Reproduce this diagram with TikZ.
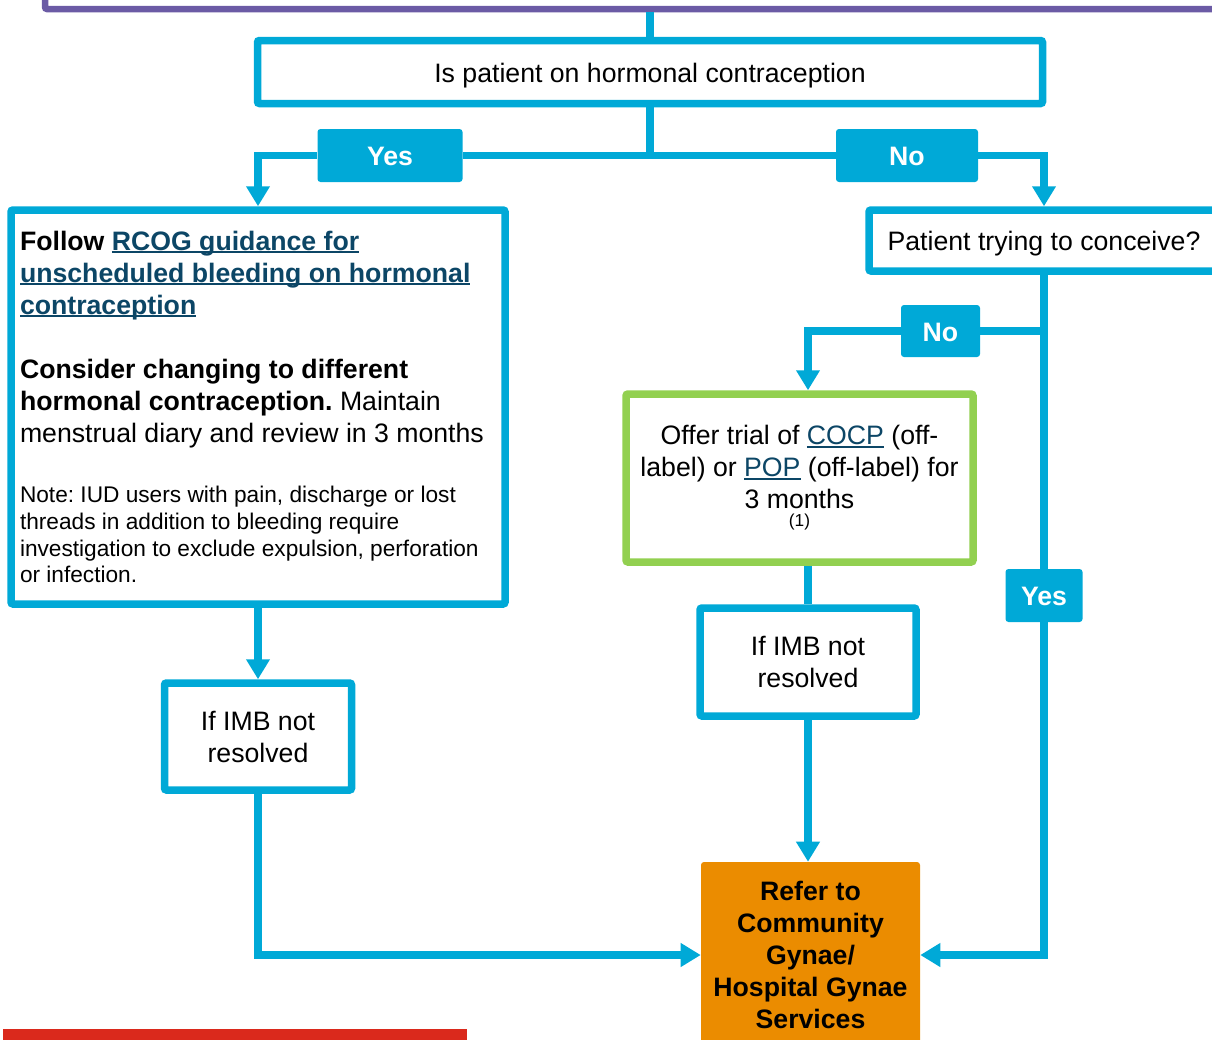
\documentclass[tikz,border=0pt]{standalone}
\usepackage{fontspec}
\setmainfont{Liberation Sans}
\usetikzlibrary{arrows.meta}
\frenchspacing
\definecolor{flowcyan}{RGB}{0,169,215}
\definecolor{flowpurple}{RGB}{107,91,165}
\definecolor{flowgreen}{RGB}{146,208,80}
\definecolor{floworange}{RGB}{235,140,0}
\definecolor{flowred}{RGB}{218,41,28}
\definecolor{linkblue}{RGB}{12,70,102}
\newdimen\px \px=0.75pt
\newcommand{\weblink}[1]{\textcolor{linkblue}{\setbox0\hbox{#1}\leavevmode\rlap{\rule[-3\px]{\wd0}{2\px}}\box0}}
\tikzset{
  box/.style={draw=flowcyan,line width=7.5\px,rounded corners=2\px,fill=white,align=center,
    font=\fontsize{20}{24}\selectfont},
  tag/.style={fill=flowcyan,rounded corners=3\px,text=white,inner sep=0pt,
    font=\fontsize{20}{24}\selectfont\bfseries},
  oneline/.style={text height=15.2pt,text depth=0pt},
  flow/.style={draw=flowcyan,line width=7.5\px},
}
\begin{document}
\begin{tikzpicture}[x=1\px,y=-1\px,>={Triangle[length=15pt,width=17pt]}]
\useasboundingbox (0,0) rectangle (1212,1039);
% boxes
\node[draw=flowpurple,line width=6.5\px,rounded corners=2\px,minimum width=1210\px,minimum height=40\px,inner sep=0pt] (start) at (650,-11) {};
\node[box,oneline,minimum width=785\px,minimum height=63\px] (hormonal) at (650,72) {Is patient on hormonal contraception};
\node[tag,oneline,minimum width=145\px,minimum height=53\px] (yes1) at (390,155.5) {Yes};
\node[tag,oneline,minimum width=142\px,minimum height=53\px] (no1) at (907,155.5) {No};
\node[box,minimum width=494\px,minimum height=394\px,text width=476\px,align=flush left] (guidance) at (258,407)
  {{\bfseries Follow \weblink{RCOG guidance for}}\\
   {\bfseries\weblink{unscheduled bleeding on hormonal}}\\
   {\bfseries\weblink{contraception}}\\[32\px]
   {\bfseries Consider changing to different}\\
   {\bfseries hormonal contraception.} Maintain\\
   menstrual diary and review in 3 months\\[34\px]
   {\fontsize{17}{20}\selectfont Note: IUD users with pain, discharge or lost\\
   threads in addition to bleeding require\\
   investigation to exclude expulsion, perforation\\
   or infection.\par}};
\node[box,oneline,minimum width=350\px,minimum height=61\px] (conceive) at (1044,240.5) {Patient trying to conceive?};
\node[tag,oneline,minimum width=79\px,minimum height=52\px] (no2) at (940.5,331) {No};
\node[box,draw=flowgreen,minimum width=347\px,minimum height=168\px] (trial) at (799.5,478)
  {Offer trial of \weblink{COCP} (off-\\label) or \weblink{POP} (off-label) for\\3 months\\[-14\px]{\fontsize{13}{14}\selectfont (1)}};
\node[box,minimum width=216\px,minimum height=108\px] (imb2) at (808,662) {If IMB not\\resolved};
\node[tag,oneline,minimum width=77\px,minimum height=53\px] (yes2) at (1044,595.5) {Yes};
\node[box,minimum width=187\px,minimum height=107\px] (imb1) at (258,736.5) {If IMB not\\resolved};
\node[fill=floworange,rounded corners=3\px,minimum width=219\px,minimum height=186\px,align=center,
  font=\fontsize{20}{24}\selectfont\bfseries] (refer) at (810.5,955) {Refer to\\Community\\Gynae/\\Hospital Gynae\\Services};
\coordinate (split) at (conceive.south |- no2);
% connectors
\draw[flow] (start.south) -- (hormonal.north);
\draw[flow,->] (hormonal.south) |- (yes1) -| (guidance.north);
\draw[flow,->] (hormonal.south) |- (no1) -| (conceive.north);
\draw[flow] (conceive.south) -- (yes2);
\draw[flow,->] (yes2) |- (refer.east);
\draw[flow,->] (split) -- (no2) -| (imb2.north |- trial.north);
\draw[flow] (imb2.north |- trial.south) -- (imb2.north);
\draw[flow,->] (imb2.south) -- (imb2.south |- refer.north);
\draw[flow,->] (guidance.south) -- (imb1.north);
\draw[flow,->] (imb1.south) |- (refer.west);
\fill[flowred] (3,1029) rectangle (467,1045);
\end{tikzpicture}
\end{document}
